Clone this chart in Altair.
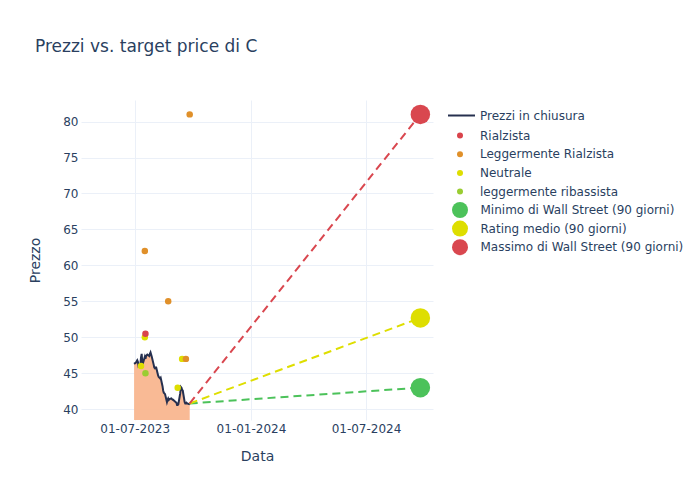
import altair as alt
import pandas as pd

# ---- data ----
price_dates = [d.strftime("%Y-%m-%d") for d in pd.bdate_range("2023-06-30", "2023-09-26")
               if d.strftime("%Y-%m-%d") not in ("2023-07-04", "2023-09-04")]
price_values = [
    46.3,
    46.5, 46.8, 46.6, 46.0, 46.3, 47.2, 47.7, 46.5, 46.4, 47.3,
    47.0, 47.4, 47.5, 47.6, 47.4, 47.7, 47.9, 47.6, 47.3, 46.2,
    45.8, 45.7, 45.8, 45.8, 44.7, 44.5, 44.4, 44.3, 44.4, 43.2,
    42.6, 42.3, 42.2, 42.1, 41.0, 41.3, 41.5, 41.3, 41.4, 41.5,
    41.4, 41.3, 41.3,
    41.2, 40.9, 40.6, 40.6, 40.7, 42.2, 43.1, 43.0, 42.7, 42.6,
    41.0, 40.8, 40.8, 40.9, 40.8, 40.7, 40.8,
]

rating_dates = ["2023-07-11", "2023-07-17", "2023-07-17", "2023-07-18", "2023-07-18",
                "2023-08-23", "2023-09-07", "2023-09-14", "2023-09-20", "2023-09-26"]
rating_values = [46.0, 62.0, 50.0, 50.5, 45.0, 55.0, 43.0, 47.0, 47.0, 81.0]
rating_categories = ["Neutrale", "Leggermente Rialzista", "Neutrale", "Rialzista",
                     "leggermente ribassista", "Leggermente Rialzista", "Neutrale",
                     "Neutrale", "Leggermente Rialzista", "Leggermente Rialzista"]

target_labels = ["Minimo di Wall Street (90 giorni)", "Rating medio (90 giorni)",
                 "Massimo di Wall Street (90 giorni)"]
target_values = [43.0, 52.7, 81.0]
target_date = "2024-09-25"

price_label = "Prezzi in chiusura"
price_color = "#26304f"
rating_order = ["Rialzista", "Leggermente Rialzista", "Neutrale", "leggermente ribassista"]
rating_colors = ["#d9434b", "#e0902a", "#dede00", "#9acd32"]
target_colors = ["#4cc25a", "#dede00", "#d9474f"]

# ---- tables ----
price_df = pd.DataFrame({"Data": price_dates, "Prezzo": price_values, "serie": price_label})
rating_df = pd.DataFrame({"Data": rating_dates, "Prezzo": rating_values,
                          "serie": rating_categories})
last_date, last_price = price_dates[-1], price_values[-1]
tline_rows = []
for lab, val in zip(target_labels, target_values):
    tline_rows.append({"Data": last_date, "Prezzo": last_price, "serie": lab})
    tline_rows.append({"Data": target_date, "Prezzo": val, "serie": lab})
tline_df = pd.DataFrame(tline_rows)
tpoint_df = pd.DataFrame({"Data": [target_date] * 3, "Prezzo": target_values,
                          "serie": target_labels})

font = "DejaVu Sans"
txt = "#2a3f5f"
grid = "#ebf0f8"

common_legend = dict(title=None, orient="none", labelFont=font, labelFontSize=12,
                     labelColor=txt, labelLimit=300, padding=0)

stroke_enc = alt.Stroke(
    "serie:N",
    scale=alt.Scale(domain=[price_label] + target_labels,
                    range=[price_color] + target_colors),
    legend=alt.Legend(values=[price_label], symbolType="stroke", symbolSize=729,
                      symbolStrokeWidth=2, labelOffset=4, legendX=366, legendY=1,
                      **common_legend))
color_enc = alt.Color(
    "serie:N", scale=alt.Scale(domain=rating_order, range=rating_colors),
    legend=alt.Legend(symbolType="circle", symbolSize=36, symbolOpacity=1,
                      labelOffset=14, rowPadding=6.7, legendX=373, legendY=29.5,
                      **common_legend))
fill_enc = alt.Fill(
    "serie:N", scale=alt.Scale(domain=target_labels, range=target_colors),
    legend=alt.Legend(symbolType="circle", symbolSize=256, symbolOpacity=1,
                      labelOffset=11.5, rowPadding=1.6, legendX=370, legendY=101,
                      **common_legend))

xenc = alt.X("Data:T", title="Data",
             scale=alt.Scale(domain=["2023-04-07", "2024-10-15"]),
             axis=alt.Axis(values=[alt.DateTime(year=2023, month=7, date=1),
                                   alt.DateTime(year=2024, month=1, date=1),
                                   alt.DateTime(year=2024, month=7, date=1)],
                           format="%d-%m-%Y"))
yenc = alt.Y("Prezzo:Q", title="Prezzo",
             scale=alt.Scale(domain=[38.5, 83], zero=False, nice=False),
             axis=alt.Axis(values=[40, 45, 50, 55, 60, 65, 70, 75, 80]))

area = alt.Chart(price_df).mark_area(color="#f9b68f", opacity=0.95, clip=True).encode(
    x=xenc, y=yenc)
line = alt.Chart(price_df).mark_line(strokeWidth=2, clip=True).encode(
    x=xenc, y=yenc, stroke=stroke_enc)
tlines = alt.Chart(tline_df).mark_line(strokeWidth=2, strokeDash=[8, 5]).encode(
    x=xenc, y=yenc, stroke=stroke_enc)
rpoints = alt.Chart(rating_df).mark_circle(size=42, opacity=1).encode(
    x=xenc, y=yenc, color=color_enc)
tpoints = alt.Chart(tpoint_df).mark_circle(size=380, opacity=1).encode(
    x=xenc, y=yenc, fill=fill_enc)

chart = alt.layer(area, line, tlines, rpoints, tpoints).properties(
    width=352, height=320,
    autosize=alt.AutoSizeParams(type="none"),
    padding={"left": 81, "top": 100, "right": 267, "bottom": 80},
    background="white",
    title=alt.TitleParams("Prezzi vs. target price di C", anchor="start", frame="group",
                          dx=-46, dy=-40, font=font, fontSize=17, fontWeight="normal",
                          color=txt),
).configure_view(stroke=None).configure_axis(
    grid=True, gridColor=grid, gridWidth=1, domain=False, ticks=False,
    labelFont=font, labelFontSize=12, labelColor=txt,
    titleFont=font, titleFontSize=14, titleColor=txt, titleFontWeight="normal",
).configure_axisX(labelPadding=3, titlePadding=15).configure_axisY(
    labelPadding=3, titlePadding=20)

chart.save("out.html", embed_options={"renderer": "svg", "actions": False})
